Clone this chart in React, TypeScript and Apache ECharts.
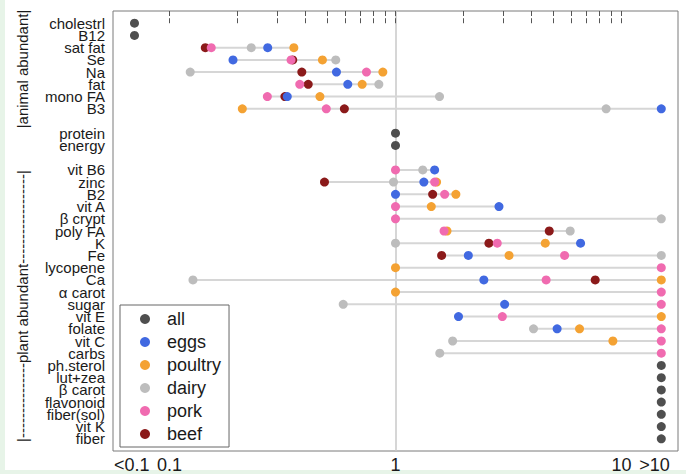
import { useEffect, useRef } from "react";
import * as echarts from "echarts";

// sentinel values used for "<0.1" and ">10"
const BELOW = 0.07;
const ABOVE = 15;

const nutrients = [
  "cholestrl", "B12", "sat fat", "Se", "Na", "fat", "mono FA", "B3", "",
  "protein", "energy", "",
  "vit B6", "zinc", "B2", "vit A", "β crypt", "poly FA", "K", "Fe", "lycopene", "Ca", "α carot",
  "sugar", "vit E", "folate", "vit C", "carbs", "ph.sterol", "lut+zea", "β carot", "flavonoid",
  "fiber(sol)", "vit K", "fiber",
];

const groupNames = ["all", "eggs", "poultry", "dairy", "pork", "beef"];
const groupColors = ["#4f4f4f", "#4169e1", "#f4a233", "#bdbdbd", "#f06bb0", "#8b1a1a"];

const allValues: Record<string, number> = {
  cholestrl: BELOW, B12: BELOW, protein: 1, energy: 1,
  "ph.sterol": ABOVE, "lut+zea": ABOVE, "β carot": ABOVE, flavonoid: ABOVE,
  "fiber(sol)": ABOVE, "vit K": ABOVE, fiber: ABOVE,
};
const eggsValues: Record<string, number> = {
  "sat fat": 0.272, Se: 0.191, Na: 0.548, fat: 0.615, "mono FA": 0.332, B3: ABOVE,
  "vit B6": 1.49, zinc: 1.335, B2: 1.0, "vit A": 2.87, K: 6.59, Fe: 2.1, Ca: 2.46,
  sugar: 3.04, "vit E": 1.9, folate: 5.19,
};
const poultryValues: Record<string, number> = {
  "sat fat": 0.355, Se: 0.475, Na: 0.879, fat: 0.712, "mono FA": 0.463, B3: 0.21,
  zinc: 1.52, B2: 1.85, "vit A": 1.44, "poly FA": 1.69, K: 4.6, Fe: 3.18, lycopene: 1.0,
  Ca: ABOVE, "α carot": 1.0, "vit E": ABOVE, folate: 6.52, "vit C": 9.16,
};
const dairyValues: Record<string, number> = {
  "sat fat": 0.23, Se: 0.544, Na: 0.1235, fat: 0.844, "mono FA": 1.566, B3: 8.55,
  "vit B6": 1.32, zinc: 0.98, "β crypt": ABOVE, "poly FA": 5.93, K: 1.0, Fe: ABOVE,
  Ca: 0.127, sugar: 0.587, folate: 4.08, "vit C": 1.79, carbs: 1.57,
};
const porkValues: Record<string, number> = {
  "sat fat": 0.153, Se: 0.345, Na: 0.744, fat: 0.377, "mono FA": 0.271, B3: 0.494,
  "vit B6": 1.0, zinc: 1.49, B2: 1.65, "vit A": 1.0, "β crypt": 1.0, "poly FA": 1.64,
  K: 2.82, Fe: 5.6, lycopene: ABOVE, Ca: 4.64, "α carot": ABOVE, sugar: ABOVE,
  "vit E": 2.97, folate: ABOVE, "vit C": ABOVE, carbs: ABOVE,
};
const beefValues: Record<string, number> = {
  "sat fat": 0.144, Se: 0.351, Na: 0.385, fat: 0.411, "mono FA": 0.324, B3: 0.594,
  zinc: 0.485, B2: 1.46, "poly FA": 4.79, K: 2.59, Fe: 1.6, Ca: 7.65,
};

const groupValues = [allValues, eggsValues, poultryValues, dairyValues, porkValues, beefValues];

const tickValues = [0.1, 0.2, 0.3, 0.4, 0.5, 0.6, 0.7, 0.8, 0.9, 1, 2, 3, 4, 5, 6, 7, 8, 9, 10];
const tickLabels = ["<0.1", "0.1", "1", "10", ">10"];
const tickLabelAt = [0.068, 0.1, 1, 10, 14];

const FONT = "'Liberation Sans', Arial, Helvetica, sans-serif";

export default function App() {
  const ref = useRef<HTMLDivElement>(null);
  useEffect(() => {
    if (!ref.current) return;
    const chart = echarts.init(ref.current, undefined, { renderer: "svg" });
    const lg = (v: number) => Math.log10(v);

    // segment per row: min..max of present values
    const segments: number[][] = [];
    nutrients.forEach((n, i) => {
      if (!n) return;
      const vals = groupValues.map((g) => g[n]).filter((v) => v !== undefined) as number[];
      if (vals.length >= 2) {
        segments.push([i, lg(Math.min(...vals)), lg(Math.max(...vals))]);
      }
    });

    const drawOrder = [5, 3, 2, 4, 1, 0]; // beef bottom ... all top
    const scatterSeries = drawOrder.map((gi) => {
      const g = groupValues[gi];
      const data: number[][] = [];
      nutrients.forEach((n, i) => {
        if (n && g[n] !== undefined) data.push([lg(g[n]), i]);
      });
      return {
        type: "scatter",
        name: groupNames[gi],
        data,
        symbol: "circle",
        symbolSize: 9,
        itemStyle: { color: groupColors[gi], opacity: 1 },
        z: 3,
        silent: true,
      };
    });

    // row label positions, padded with two blank guard labels at the ends
    const labelIdx = [-0.9, ...nutrients.map((n, i) => (n ? i : -1)).filter((i) => i >= 0), 34.9];
    const logTicks = tickValues.map(lg);
    const logLabelAt = tickLabelAt.map(lg);

    const xMin = -1.25;
    const xMax = 1.25;

    chart.setOption({
      animation: false,
      backgroundColor: "#ffffff",
      textStyle: { fontFamily: FONT },
      grid: {
        left: 113,
        top: 11,
        width: 565,
        height: 442,
        show: true,
        borderColor: "#7a7a7a",
        borderWidth: 1,
        backgroundColor: "#ffffff",
        containLabel: false,
      },
      xAxis: [
        {
          type: "value",
          min: xMin,
          max: xMax,
          position: "bottom",
          axisLine: { show: false },
          splitLine: { show: false },
          axisTick: {
            show: true,
            inside: true,
            length: 5,
            customValues: logTicks,
            lineStyle: { color: "#555", width: 1 },
          },
          axisLabel: {
            show: true,
            customValues: logLabelAt,
            showMinLabel: true,
            showMaxLabel: true,
            margin: 5,
            fontSize: 18,
            color: "#1a1a1a",
            fontFamily: FONT,
            formatter: (v: number) => {
              let best = 0;
              logLabelAt.forEach((p, i) => {
                if (Math.abs(p - v) < Math.abs(logLabelAt[best] - v)) best = i;
              });
              return tickLabels[best];
            },
          },
        },
        {
          type: "value",
          min: xMin,
          max: xMax,
          position: "top",
          axisLine: { show: false },
          splitLine: { show: false },
          axisLabel: { show: false },
          axisTick: {
            show: true,
            inside: true,
            length: 5,
            customValues: logTicks,
            lineStyle: { color: "#555", width: 1 },
          },
        },
      ],
      yAxis: {
        type: "value",
        min: -1,
        max: 35,
        inverse: true,
        axisLine: { show: false },
        axisTick: { show: false },
        splitLine: { show: false },
        axisLabel: {
          customValues: labelIdx,
          showMinLabel: false,
          showMaxLabel: false,
          hideOverlap: false,
          margin: 8,
          fontSize: 15,
          color: "#1a1a1a",
          fontFamily: FONT,
          formatter: (v: number) => (Number.isInteger(v) ? nutrients[v] || "" : ""),
        },
      },
      legend: {
        show: true,
        data: groupNames,
        orient: "vertical",
        left: 120,
        top: 305,
        padding: [5, 8, 4, 20],
        itemWidth: 34,
        itemHeight: 10,
        itemGap: 5,
        icon: "circle",
        borderColor: "#666",
        borderWidth: 1,
        backgroundColor: "#ffffff",
        selectedMode: false,
        textStyle: { fontSize: 18, color: "#1a1a1a", fontFamily: FONT, lineHeight: 18 },
        z: 10,
      },
      graphic: [
        { type: "rect", left: 0, top: 0, shape: { width: 5, height: 474 }, style: { fill: "#e7f4e8" }, silent: true },
        { type: "rect", left: 0, top: 470, shape: { width: 686, height: 4 }, style: { fill: "#e7f4e8" }, silent: true },
        {
          type: "text",
          x: 22,
          y: 69,
          rotation: Math.PI / 2,
          silent: true,
          style: {
            text: "|animal abundant|",
            fontSize: 15,
            fontFamily: FONT,
            fill: "#1a1a1a",
            align: "center",
            verticalAlign: "middle",
          },
        },
        {
          type: "text",
          x: 22,
          y: 306,
          rotation: Math.PI / 2,
          silent: true,
          style: {
            text: "|" + "-".repeat(15) + "plant abundant" + "-".repeat(18) + "|",
            fontSize: 15,
            fontFamily: FONT,
            fill: "#1a1a1a",
            align: "center",
            verticalAlign: "middle",
          },
        },
      ],
      series: [
        {
          type: "custom",
          name: "segments",
          data: segments,
          encode: { x: [1, 2], y: 0 },
          z: 1,
          silent: true,
          renderItem: (_params: any, api: any) => {
            const y = api.value(0);
            const p1 = api.coord([api.value(1), y]);
            const p2 = api.coord([api.value(2), y]);
            return {
              type: "line",
              shape: { x1: p1[0], y1: p1[1], x2: p2[0], y2: p2[1] },
              style: { stroke: "#d6d6d6", lineWidth: 2 },
            };
          },
          markLine: {
            silent: true,
            symbol: "none",
            label: { show: false },
            lineStyle: { color: "#c9c9c9", width: 1.5, type: "solid" },
            data: [{ xAxis: 0 }],
            z: 0,
          },
        },
        ...scatterSeries,
      ],
    } as any);
    return () => chart.dispose();
  }, []);
  return (
    <div
      ref={ref}
      style={{ position: "fixed", left: 0, top: 0, width: 686, height: 474 }}
    />
  );
}
